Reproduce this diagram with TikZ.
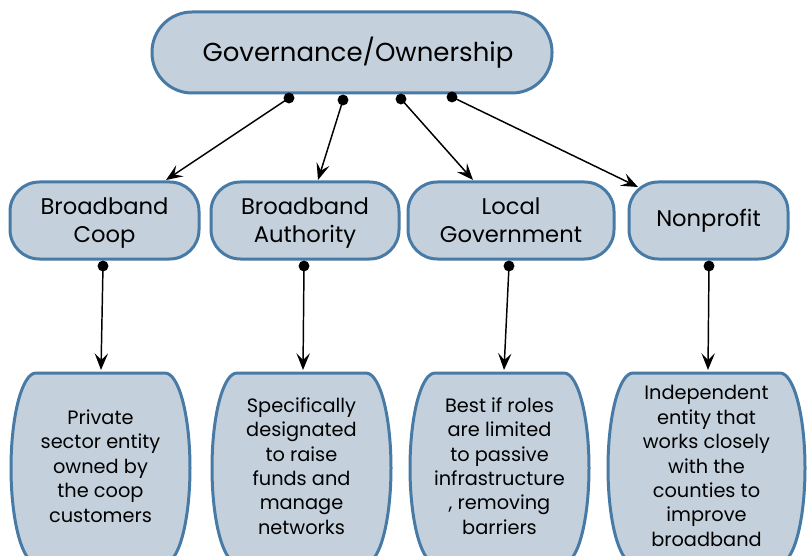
\documentclass[tikz,border=0pt]{standalone}
\usepackage{fontspec}
\setmainfont{Poppins}
\usetikzlibrary{arrows.meta}
\definecolor{boxfill}{RGB}{196,209,220}
\definecolor{boxline}{RGB}{72,122,166}
\newcommand{\nodp}[1]{\raisebox{0pt}[\height][0pt]{#1}}
\tikzset{
  topbox/.style={draw=boxline, fill=boxfill, line width=2.25pt, rounded corners=30pt,
    minimum width=300pt, minimum height=60.75pt, inner sep=0pt,
    font=\fontsize{19.5}{24}\selectfont},
  midbox/.style={draw=boxline, fill=boxfill, line width=2.25pt, rounded corners=22pt,
    minimum height=57.75pt, inner sep=0pt, align=center,
    font=\fontsize{17}{21}\selectfont},
  barrel/.style={draw=boxline, fill=boxfill, line width=2.25pt},
  lowtext/.style={align=center, inner sep=0pt, font=\fontsize{14.5}{18.3}\selectfont},
  conn/.style={line width=1.1pt, -{Stealth[length=12.5pt, width=10pt, inset=5pt]}},
  dot/.style={fill=black}
}
\begin{document}
\begin{tikzpicture}[x=0.75pt, y=-0.75pt]
\useasboundingbox (0,0) rectangle (810,556);
\clip (0,0) rectangle (810,556);
% top
\node[topbox] (G) at (352,52.5) {\hspace*{9pt}Governance/Ownership};
% middle
\node[midbox, minimum width=141.75pt] (c1) at (104.5,220.5) {Broadband\\\nodp{Coop}};
\node[midbox, minimum width=141pt]    (c2) at (305,220.5)   {Broadband\\\nodp{Authority}};
\node[midbox, minimum width=154.5pt]  (c3) at (511,220.5)   {Local\\Government};
\node[midbox, minimum width=119.25pt] (c4) at (708.5,220.5) {Nonprofit};
% bottom barrels
\foreach \L/\R in {11/190, 212/391, 410/589, 608/805}{
  \draw[barrel] ({\L+25},373) -- ({\R-25},373)
    arc[start angle=-90, end angle=0, x radius=25, y radius=95]
    arc[start angle=0, end angle=90, x radius=25, y radius=95]
    -- ({\L+25},563)
    arc[start angle=90, end angle=180, x radius=25, y radius=95]
    arc[start angle=180, end angle=270, x radius=25, y radius=95] -- cycle;
}
\node[lowtext] (b1) at (100.5,466) {Private\\sector entity\\owned by\\the coop\\customers};
\node[lowtext] (b2) at (301.5,466) {Specifically\\designated\\to raise\\funds and\\manage\\networks};
\node[lowtext] (b3) at (499.5,466) {Best if roles\\are limited\\to passive\\infrastructure\\, removing\\barriers};
\node[lowtext] (b4) at (706.5,466) {Independent\\entity that\\works closely\\with the\\counties to\\improve\\broadband};
% connector ends
\coordinate (s1) at (289,98);
\coordinate (s2) at (343,100);
\coordinate (s3) at (401,99);
\coordinate (s4) at (452,97);
\coordinate (t1) at (166,180);
\coordinate (t2) at (318,180);
\coordinate (t3) at (473,180);
\coordinate (t4) at (638,187);
\coordinate (m1) at (103,266);
\coordinate (m2) at (304,266);
\coordinate (m3) at (509,266);
\coordinate (m4) at (709,266);
\coordinate (u1) at (101,370);
\coordinate (u2) at (303,370);
\coordinate (u3) at (504,370);
\coordinate (u4) at (708,370);
\foreach \a/\b in {s1/t1, s2/t2, s3/t3, s4/t4, m1/u1, m2/u2, m3/u3, m4/u4}{
  \draw[conn] (\a) -- (\b);
  \fill[dot] (\a) circle[radius=4.1pt];
}
\end{tikzpicture}
\end{document}
